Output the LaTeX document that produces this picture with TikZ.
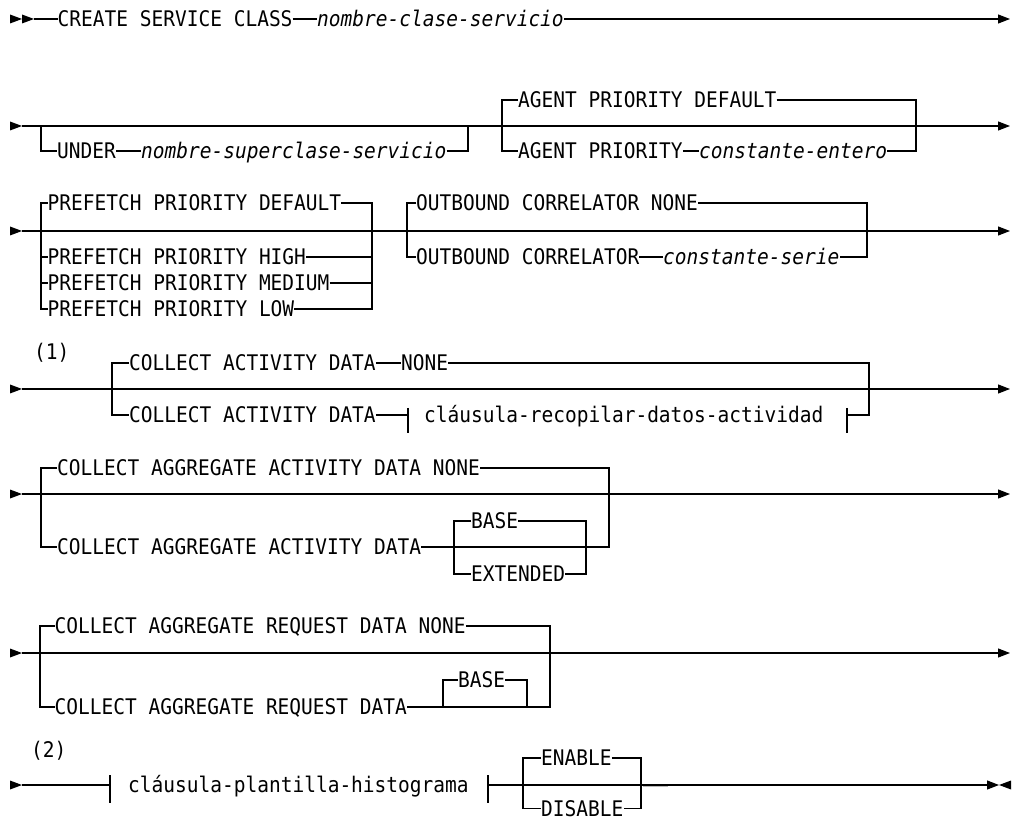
\documentclass[tikz,border=0pt]{standalone}
\usepackage{fontspec}
\newfontfamily\dmono{DejaVu Sans Mono}[FakeStretch=0.907, ItalicFont={DejaVu Sans Mono Oblique}]
\usetikzlibrary{arrows.meta,calc}
\newcommand\rfont{\dmono\fontsize{21.5pt}{24pt}\selectfont}
\begin{document}
\begin{tikzpicture}[x=1pt,y=-1pt,
  lbl/.style={font=\rfont, inner xsep=0pt, inner ysep=0pt, text height=15.6pt, text depth=0pt, anchor=west},
  var/.style={lbl, font=\rfont\itshape},
  rail/.style={line width=1.1pt, black},
  endarrow/.style={-{Triangle[length=12pt,width=9pt]}},
  startmark/.pic={\fill (-12,-4.5) -- (0,0) -- (-12,4.5) -- cycle;},
  revmark/.pic={\fill (12,-4.5) -- (0,0) -- (12,4.5) -- cycle;}]
\useasboundingbox (0,0) rectangle (1018,818);

% ---------- Row 1 ----------
\coordinate (s1) at (34,19);
\pic at (22,19) {startmark};
\pic at (s1) {startmark};
\node[lbl] (create) at (57.5,19) {CREATE SERVICE CLASS};
\node[var] (scname) at (317,19) {nombre-clase-servicio};
\coordinate (e1) at (1010,19);
\draw[rail] (s1) -- (create.west);
\draw[rail] (create.east) -- (scname.west);
\draw[rail,endarrow] (scname.east) -- (e1);

% ---------- Row 2 ----------
\coordinate (s2) at (22,126);
\coordinate (e2) at (1010,126);
\pic at (s2) {startmark};
\draw[rail,endarrow] (s2) -- (e2);
\coordinate (u1) at (41,126);
\coordinate (u2) at (468,126);
\node[lbl] (under) at (57,151) {UNDER};
\node[var] (supname) at (141,151) {nombre-superclase-servicio};
\draw[rail] (u1) |- (under.west);
\draw[rail] (under.east) -- (supname.west);
\draw[rail] (supname.east) -| (u2);
\coordinate (a1) at (502,126);
\coordinate (a2) at (916,126);
\node[lbl] (agdef) at (518,100) {AGENT PRIORITY DEFAULT};
\node[lbl] (agp) at (518,151) {AGENT PRIORITY};
\node[var] (agc) at (699,151) {constante-entero};
\draw[rail] (agdef.west) -| (a1) |- (agp.west);
\draw[rail] (agp.east) -- (agc.west);
\draw[rail] (agdef.east) -| (a2) |- (agc.east);

% ---------- Row 3 ----------
\coordinate (s3) at (22,231);
\coordinate (e3) at (1010,231);
\pic at (s3) {startmark};
\draw[rail,endarrow] (s3) -- (e3);
\coordinate (p1) at (41,231);
\coordinate (p2) at (372,231);
\node[lbl] (pfd) at (47.5,203) {PREFETCH PRIORITY DEFAULT};
\node[lbl] (pfh) at (47.5,257) {PREFETCH PRIORITY HIGH};
\node[lbl] (pfm) at (47.5,283) {PREFETCH PRIORITY MEDIUM};
\node[lbl] (pfl) at (47.5,309) {PREFETCH PRIORITY LOW};
\draw[rail] (pfd.west) -| (p1) |- (pfl.west);
\draw[rail] (pfh.west) -- (pfh.west -| p1);
\draw[rail] (pfm.west) -- (pfm.west -| p1);
\draw[rail] (pfd.east) -| (p2) |- (pfl.east);
\draw[rail] (pfh.east) -- (pfh.east -| p2);
\draw[rail] (pfm.east) -- (pfm.east -| p2);
\coordinate (o1) at (407,231);
\coordinate (o2) at (867,231);
\node[lbl] (ocn) at (416,203) {OUTBOUND CORRELATOR NONE};
\node[lbl] (oc) at (416,257) {OUTBOUND CORRELATOR};
\node[var] (ocs) at (663,257) {constante-serie};
\draw[rail] (ocn.west) -| (o1) |- (oc.west);
\draw[rail] (oc.east) -- (ocs.west);
\draw[rail] (ocn.east) -| (o2) |- (ocs.east);

% ---------- Row 4 ----------
\node[lbl] (n1) at (34,352) {(1)};
\coordinate (s4) at (22,389);
\coordinate (e4) at (1010,389);
\pic at (s4) {startmark};
\draw[rail,endarrow] (s4) -- (e4);
\coordinate (c1) at (112,389);
\coordinate (c2) at (869,389);
\node[lbl] (cad) at (129,363) {COLLECT ACTIVITY DATA};
\node[lbl] (none1) at (401,363) {NONE};
\node[lbl] (cad2) at (129,415) {COLLECT ACTIVITY DATA};
\node[lbl] (frag1) at (424,415) {cláusula-recopilar-datos-actividad};
\coordinate (fb1) at (408,415);
\coordinate (fb2) at (847,415);
\draw[rail] (cad.west) -| (c1) |- (cad2.west);
\draw[rail] (cad.east) -- (none1.west);
\draw[rail] (cad2.east) -- (fb1);
\draw[rail] ($(fb1)+(0,-7)$) -- ($(fb1)+(0,18)$);
\draw[rail] ($(fb2)+(0,-7)$) -- ($(fb2)+(0,18)$);
\draw[rail] (none1.east) -| (c2) |- (fb2);

% ---------- Row 5 ----------
\coordinate (s5) at (22,494);
\coordinate (e5) at (1010,494);
\pic at (s5) {startmark};
\draw[rail,endarrow] (s5) -- (e5);
\coordinate (g1) at (41,494);
\coordinate (g2) at (609,494);
\node[lbl] (caa) at (57,468) {COLLECT AGGREGATE ACTIVITY DATA NONE};
\node[lbl] (caa2) at (57,547) {COLLECT AGGREGATE ACTIVITY DATA};
\node[lbl] (base1) at (471,521) {BASE};
\node[lbl] (ext1) at (471,574) {EXTENDED};
\coordinate (h1) at (454,547);
\coordinate (h2) at (586,547);
\draw[rail] (caa.west) -| (g1) |- (caa2.west);
\draw[rail] (caa.east) -| (g2) |- (caa2.east);
\draw[rail] (base1.west) -| (h1) |- (ext1.west);
\draw[rail] (base1.east) -| (h2) |- (ext1.east);

% ---------- Row 6 ----------
\coordinate (s6) at (22,653);
\coordinate (e6) at (1010,653);
\pic at (s6) {startmark};
\draw[rail,endarrow] (s6) -- (e6);
\coordinate (k1) at (40,653);
\coordinate (k2) at (550,653);
\node[lbl] (car) at (54.5,626) {COLLECT AGGREGATE REQUEST DATA NONE};
\node[lbl] (car2) at (54.5,707) {COLLECT AGGREGATE REQUEST DATA};
\node[lbl] (base2) at (458,680) {BASE};
\coordinate (m1) at (443,707);
\coordinate (m2) at (527,707);
\draw[rail] (car.west) -| (k1) |- (car2.west);
\draw[rail] (car.east) -| (k2) |- (car2.east);
\draw[rail] (base2.west) -| (m1);
\draw[rail] (base2.east) -| (m2);

% ---------- Row 7 ----------
\node[lbl] (n2) at (31,750) {(2)};
\coordinate (s7) at (22,785);
\pic at (s7) {startmark};
\coordinate (fb3) at (110,785);
\coordinate (fb4) at (488,785);
\node[lbl] (frag2) at (128,785) {cláusula-plantilla-histograma};
\draw[rail] (s7) -- (fb3);
\draw[rail] ($(fb3)+(0,-10)$) -- ($(fb3)+(0,18)$);
\draw[rail] ($(fb4)+(0,-10)$) -- ($(fb4)+(0,18)$);
\coordinate (q1) at (523,785);
\coordinate (q2) at (641,785);
\node[lbl] (en) at (541,758) {ENABLE};
\node[lbl] (dis) at (541,808.5) {DISABLE};
\draw[rail] (en.west) -| (q1) |- (dis.west);
\draw[rail] (en.east) -| (q2) |- (dis.east);
\draw[gray!55, line width=1.6pt] (643,786.5) -- (668,786.5);
\coordinate (e7) at (999,785);
\draw[rail,endarrow] (fb4) -- (e7);
\pic at (e7) {revmark};
\end{tikzpicture}
\end{document}
